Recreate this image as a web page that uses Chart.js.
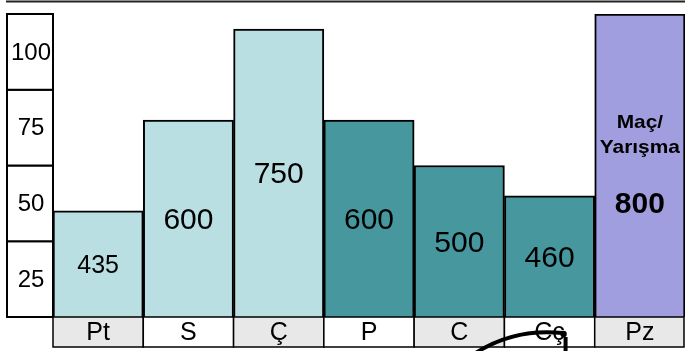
<!DOCTYPE html>
<html>
<head>
<meta charset="utf-8">
<script src="https://cdn.jsdelivr.net/npm/chart.js@4/dist/chart.umd.min.js"></script>
<style>
  html, body { margin: 0; padding: 0; background: #ffffff; }
  #wrap { width: 685px; height: 351px; position: relative; }
</style>
</head>
<body>
<div id="wrap"><canvas id="chart" width="685" height="351"></canvas></div>
<script>
// Training zones: relative intensity (%) and load per zone
const categories = ['Pt', 'S', 'Ç', 'P', 'C', 'Cç', 'Pz'];
const intensity = [35, 65, 95, 65, 50, 40, 100];
const loads = [435, 600, 750, 600, 500, 460, 800];
const tickValues = [25, 50, 75, 100];
const barColors = ['#b9dfe2', '#b9dfe2', '#b9dfe2', '#46989e', '#46989e', '#46989e', '#a09ede'];
const matchLabel = ['Maç/', 'Yarışma'];

const FONT = '"Liberation Sans", Arial, sans-serif';

function drawText(ctx, text, x, y, font, stretch) {
  ctx.save();
  ctx.font = font;
  ctx.textAlign = 'center';
  ctx.textBaseline = 'middle';
  ctx.translate(x, y);
  ctx.scale(stretch || 1, 1);
  ctx.fillText(text, 0, 0);
  ctx.restore();
}

const decor = {
  id: 'decor',
  afterDatasetsDraw(chart) {
    const ctx = chart.ctx;
    const xs = chart.scales.x;
    const ys = chart.scales.y;
    const area = chart.chartArea;
    const meta = chart.getDatasetMeta(0);
    const half = (xs.getPixelForValue(1) - xs.getPixelForValue(0)) / 2;

    ctx.save();
    ctx.fillStyle = '#000';

    // value labels inside bars
    meta.data.forEach((bar, i) => {
      const cy = (bar.y + bar.base) / 2;
      if (i === categories.length - 1) {
        drawText(ctx, matchLabel[0], bar.x, ys.getPixelForValue(64), 'bold 19px ' + FONT, 1.1);
        drawText(ctx, matchLabel[1], bar.x, ys.getPixelForValue(56), 'bold 19px ' + FONT, 1.1);
        drawText(ctx, String(loads[i]), bar.x, ys.getPixelForValue(37), 'bold 30px ' + FONT);
      } else {
        const size = loads[i] < 450 ? 25 : 30;
        drawText(ctx, String(loads[i]), bar.x, cy + 2, size + 'px ' + FONT);
      }
    });

    // left scale boxes
    const boxL = 7, boxR = area.left;
    ctx.lineWidth = 2;
    ctx.strokeStyle = '#000';
    tickValues.forEach(t => {
      const top = ys.getPixelForValue(t);
      const bot = ys.getPixelForValue(t - 25);
      ctx.fillStyle = '#fff';
      ctx.fillRect(boxL, top, boxR - boxL, bot - top);
      ctx.strokeRect(boxL, top, boxR - boxL, bot - top);
      ctx.fillStyle = '#000';
      drawText(ctx, String(t), (boxL + boxR) / 2 + 1, (top + bot) / 2 + 1, '24px ' + FONT);
    });

    // category label strip
    const stripTop = area.bottom, stripBot = area.bottom + 30;
    ctx.lineWidth = 1.5;
    categories.forEach((c, i) => {
      const cx = xs.getPixelForValue(i);
      const l = cx - half, r = Math.min(cx + half, chart.width - 1);
      ctx.fillStyle = i % 2 === 0 ? '#e8e8e8' : '#ffffff';
      ctx.fillRect(l, stripTop, r - l, stripBot - stripTop);
      ctx.strokeRect(l, stripTop, r - l, stripBot - stripTop);
      ctx.fillStyle = '#000';
      drawText(ctx, c, cx, (stripTop + stripBot) / 2 + 1, '25px ' + FONT);
    });

    // top rule
    ctx.strokeStyle = '#222';
    ctx.lineWidth = 2;
    ctx.beginPath();
    ctx.moveTo(6, 1.5);
    ctx.lineTo(chart.width, 1.5);
    ctx.stroke();

    // hand-drawn arrow near the Cç zone
    const ax = xs.getPixelForValue(5);
    const ay = area.bottom;
    ctx.strokeStyle = '#000';
    ctx.lineWidth = 4;
    ctx.lineCap = 'round';
    ctx.beginPath();
    ctx.moveTo(ax - 74, ay + 36);
    ctx.quadraticCurveTo(ax - 35, ay + 11, ax + 13, ay + 16);
    ctx.stroke();
    ctx.beginPath();
    ctx.arc(ax + 14, ay + 17, 3.2, 0, Math.PI * 2);
    ctx.fillStyle = '#000';
    ctx.fill();
    ctx.lineCap = 'butt';
    ctx.beginPath();
    ctx.moveTo(ax + 16, ay + 20);
    ctx.lineTo(ax + 16, ay + 36);
    ctx.stroke();

    ctx.restore();
  }
};

new Chart(document.getElementById('chart'), {
  type: 'bar',
  data: {
    labels: categories,
    datasets: [{
      data: intensity,
      backgroundColor: barColors,
      borderColor: '#000',
      borderWidth: 2,
      barPercentage: 1,
      categoryPercentage: 1
    }]
  },
  options: {
    responsive: false,
    animation: false,
    events: [],
    layout: { padding: { left: 53, top: 14, right: 0, bottom: 34 } },
    plugins: { legend: { display: false }, tooltip: { enabled: false } },
    scales: {
      x: { display: false },
      y: { display: false, min: 0, max: 100 }
    }
  },
  plugins: [decor]
});
</script>
</body>
</html>
